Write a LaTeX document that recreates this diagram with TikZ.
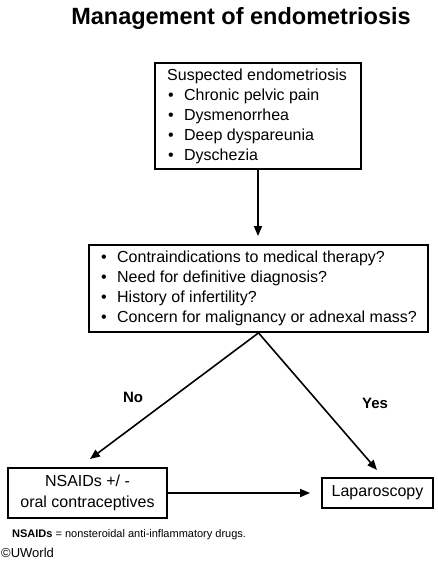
\documentclass[tikz,border=0pt]{standalone}
\usepackage{fontspec}
\setmainfont{Liberation Sans}
\usetikzlibrary{arrows.meta}
\newcommand{\bitem}[1]{\makebox[17pt][l]{\hspace{1pt}\textbullet}#1}
\begin{document}
\begin{tikzpicture}[x=1pt,y=-1pt,
  box/.style={draw=black, line width=1.8pt, inner sep=0pt, fill=white},
  conn/.style={line width=1.6pt, -{Triangle[length=10pt,width=8pt]}},
  body/.style={font=\fontsize{16}{20}\selectfont},
  lbl/.style={font=\fontsize{15}{18}\selectfont\bfseries}]
\useasboundingbox (0,0) rectangle (438,562);
\node[font=\fontsize{23.5}{27}\selectfont\bfseries] (title) at (241,18) {Management of endometriosis};
% boxes
\node[box, minimum width=206pt, minimum height=106pt] (b1) at (258,116) {};
\node[body, align=left, anchor=west, inner sep=0pt] (t1) at (167,116) {Suspected endometriosis\\
\bitem{Chronic pelvic pain}\\
\bitem{Dysmenorrhea}\\
\bitem{Deep dyspareunia}\\
\bitem{Dyschezia}};
\node[box, minimum width=339pt, minimum height=87pt] (b2) at (258.5,288.5) {};
\node[body, align=left, anchor=west, inner sep=0pt] (t2) at (100,288.5) {\bitem{Contraindications to medical therapy?}\\
\bitem{Need for definitive diagnosis?}\\
\bitem{History of infertility?}\\
\bitem{Concern for malignancy or adnexal mass?}};
\node[box, body, minimum width=159pt, minimum height=50pt, align=center, font=\fontsize{16}{21}\selectfont] (b3) at (87.5,493) {NSAIDs +/ -\\oral contraceptives};
\node[box, body, minimum width=111pt, minimum height=30pt] (b4) at (377.5,493) {Laparoscopy};
% connectors
\coordinate (tipL) at (90,459);
\coordinate (tipR) at (377,470);
\draw[conn, shorten >=8pt] (b1.south) -- (b1.south |- b2.north);
\draw[conn] (b2.south) -- (tipL);
\draw[conn] (b2.south) -- (tipR);
\draw[conn, shorten >=11pt] (b3.east) -- (b4.west);
% labels
\node[lbl] (no) at (133,397) {No};
\node[lbl] (yes) at (375,403) {Yes};
\node[anchor=west, inner sep=0pt, font=\fontsize{11}{13}\selectfont] (note) at (12,535) {\textbf{NSAIDs} = nonsteroidal anti-inflammatory drugs.};
\node[anchor=west, inner sep=0pt, font=\fontsize{13}{15}\selectfont] (copy) at (1,553) {©UWorld};
\end{tikzpicture}
\end{document}
